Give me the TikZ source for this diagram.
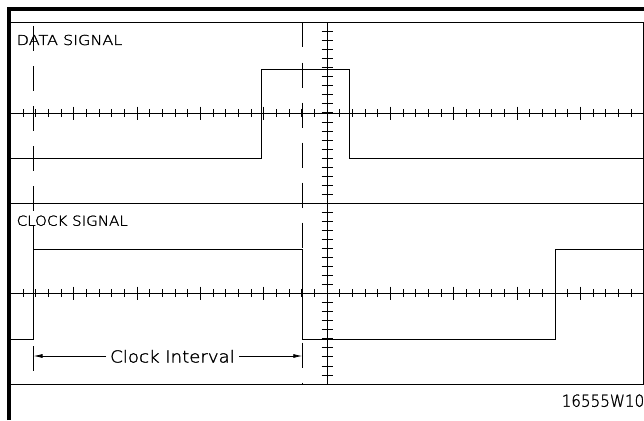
\documentclass[tikz,border=0pt]{standalone}
\usepackage{fontspec}
\IfFontExistsTF{DejaVu Sans ExtraLight}{\setmainfont{DejaVu Sans ExtraLight}[FakeBold=1.5]}{\setmainfont{DejaVu Sans}}
\usetikzlibrary{arrows.meta}
\begin{document}
\begin{tikzpicture}[x=1pt,y=-1pt,
  sig/.style={line width=0.9pt,line join=miter},
  thin/.style={line width=0.8pt},
  tick/.style={line width=0.8pt},
  border/.style={line width=4pt},
  dashline/.style={line width=0.9pt,dash pattern=on 25pt off 15pt},
  lbl/.style={inner sep=0pt,font=\fontsize{13.7}{14}\selectfont},
  big/.style={inner sep=0pt,font=\fontsize{16.5}{17}\selectfont},
  dimarrow/.style={line width=0.8pt,-{Latex[length=9pt,width=4pt]}}]
\useasboundingbox (0,0) rectangle (644,420);
% frame
\draw[border] (9.2,420) -- (9.2,9.3) -- (644,9.3);
\draw[thin] (9,22.5) -- (644,22.5);
\draw[thin] (9,203) -- (644,203);
\draw[thin] (9,384) -- (644,384);
\draw[thin] (643.5,22.5) -- (643.5,384);
% horizontal axes with ticks
\foreach \ay in {113,293}{
  \draw[thin] (9,\ay) -- (644,\ay);
  \foreach \k in {-25,...,25}{
    \pgfmathsetmacro\tx{327+\k*12.667}
    \pgfmathsetmacro\tl{ifthenelse(mod(abs(\k),5)==0,6.5,4)}
    \draw[tick] ({\tx},{\ay-\tl}) -- ({\tx},{\ay+\tl});
  }
}
% vertical centre axis with ticks
\draw[thin] (327,22.5) -- (327,384);
\foreach \j in {1,...,39}{
  \pgfmathsetmacro\ty{22.5+\j*9.0375}
  \draw[tick] (321.5,{\ty}) -- (332.5,{\ty});
}
% dashed reference lines
\draw[dashline] (33.5,26) -- (33.5,384);
\draw[dashline] (302.3,22.5) -- (302.3,384);
% signals
\draw[sig] (9,158) -- (261.3,158) -- (261.3,69) -- (349,69) -- (349,158) -- (644,158);
\draw[sig] (9,339) -- (33.5,339) -- (33.5,249) -- (302.3,249) -- (302.3,339) -- (555.3,339) -- (555.3,249) -- (644,249);
% labels
\node[lbl,anchor=base west] (data) at (16.5,45) {\scalebox{1.17}[1]{DATA SIGNAL}};
\node[lbl,anchor=base west] (clock) at (16.5,225.7) {\scalebox{1.1}[1]{CLOCK SIGNAL}};
\node[big,anchor=base,inner xsep=4pt] (ci) at (172.5,362.5) {\scalebox{1.1}[1]{Clock Interval}};
\node[big,anchor=base east] (fig) at (644.5,406.7) {\scalebox{0.92}[1]{16555W10}};
% dimension line
\coordinate (dl) at (33.5,356);
\coordinate (dr) at (302.3,356);
\draw[dimarrow] (ci.west |- dl) -- (dl);
\draw[dimarrow] (ci.east |- dr) -- (dr);
\end{tikzpicture}
\end{document}
